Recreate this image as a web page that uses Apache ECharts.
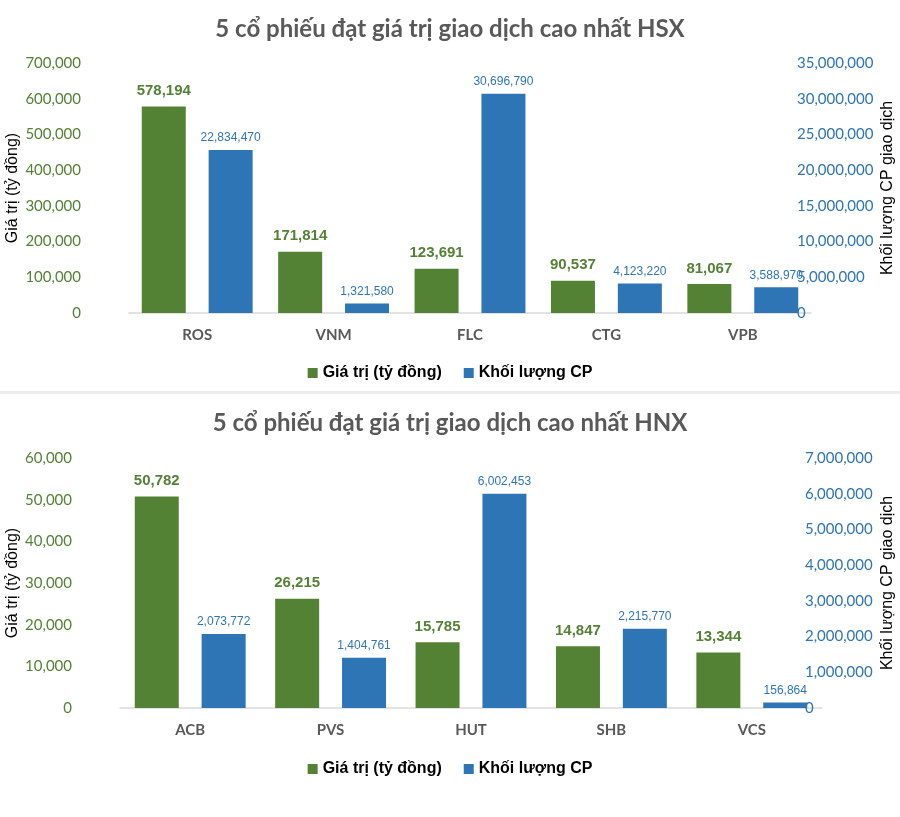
<!DOCTYPE html>
<html>
<head>
<meta charset="utf-8">
<script src="https://cdn.jsdelivr.net/npm/echarts@6/dist/echarts.min.js"></script>
<style>
html,body{margin:0;padding:0;background:#fff;}
#c{width:900px;height:817px;}
</style>
</head>
<body>
<div id="c"></div>
<script>
// ---- Data ----
const hsxCategories = ['ROS', 'VNM', 'FLC', 'CTG', 'VPB'];
const hsxValue = [578194, 171814, 123691, 90537, 81067];
const hsxVolume = [22834470, 1321580, 30696790, 4123220, 3588970];

const hnxCategories = ['ACB', 'PVS', 'HUT', 'SHB', 'VCS'];
const hnxValue = [50782, 26215, 15785, 14847, 13344];
const hnxVolume = [2073772, 1404761, 6002453, 2215770, 156864];

const titleHSX = '5 cổ phiếu đạt giá trị giao dịch cao nhất HSX';
const titleHNX = '5 cổ phiếu đạt giá trị giao dịch cao nhất HNX';
const seriesNames = ['Giá trị (tỷ đồng)', 'Khối lượng CP'];
const leftAxisName = 'Giá trị (tỷ đồng)';
const rightAxisName = 'Khối lượng CP giao dịch';

// ---- Styles ----
const GREEN = '#548235';
const BLUE = '#2E75B6';
const fmt = v => v.toLocaleString('en-US');
const tickFont = 'Lato, "Open Sans", sans-serif';
const narrow = '"Liberation Sans Narrow", "Arial Narrow", "Liberation Sans", sans-serif';

function yLeft(gridIndex, max, interval, gap) {
  return {
    type: 'value', gridIndex, min: 0, max, interval, position: 'left',
    name: leftAxisName, nameLocation: 'middle', nameGap: gap, nameMoveOverlap: false,
    nameTextStyle: {color: '#000', fontSize: 16, fontFamily: 'Liberation Sans, Arial, sans-serif'},
    axisLine: {show: false}, axisTick: {show: false}, splitLine: {show: false},
    axisLabel: {color: GREEN, fontSize: 15, fontFamily: tickFont, margin: 48, formatter: v => fmt(v)}
  };
}
function yRight(gridIndex, max, interval, off, gap) {
  return {
    type: 'value', gridIndex, min: 0, max, interval, position: 'right', offset: off,
    name: rightAxisName, nameLocation: 'middle', nameGap: gap, nameMoveOverlap: false,
    nameTextStyle: {color: '#000', fontSize: 16, fontFamily: 'Liberation Sans, Arial, sans-serif'},
    axisLine: {show: false}, axisTick: {show: false}, splitLine: {show: false},
    axisLabel: {color: BLUE, fontSize: 15, fontFamily: tickFont, margin: 0, formatter: v => fmt(v)}
  };
}
function xCat(gridIndex, data) {
  return {
    type: 'category', gridIndex, data,
    axisLine: {lineStyle: {color: '#d9d9d9', width: 1.5}}, axisTick: {show: false},
    axisLabel: {color: '#595959', fontWeight: 'bold', fontSize: 15, fontFamily: tickFont, margin: 15}
  };
}
function greenSeries(xi, yi, data) {
  return {
    name: seriesNames[0], type: 'bar', xAxisIndex: xi, yAxisIndex: yi, data,
    barWidth: 44, barGap: '52%',
    itemStyle: {color: GREEN},
    label: {show: true, position: 'top', distance: 8, color: GREEN, fontWeight: 'bold', fontSize: 15,
      fontFamily: narrow, formatter: p => fmt(p.value)}
  };
}
function blueSeries(xi, yi, data) {
  return {
    name: seriesNames[1], type: 'bar', xAxisIndex: xi, yAxisIndex: yi, data,
    barWidth: 44, barGap: '52%',
    itemStyle: {color: BLUE},
    label: {show: true, position: 'top', distance: 6, color: BLUE, fontSize: 12,
      fontFamily: narrow, formatter: p => fmt(p.value)}
  };
}
const titleStyle = {color: '#595959', fontSize: 24, fontWeight: 'bold', fontFamily: tickFont};
const legendStyle = {color: '#000', fontSize: 16, fontWeight: 'bold', fontFamily: 'Liberation Sans, Arial, sans-serif'};

const option = {
  animation: false,
  backgroundColor: '#fff',
  title: [
    {text: titleHSX, left: 'center', top: 12, textStyle: titleStyle},
    {text: titleHNX, left: 'center', top: 406, textStyle: titleStyle}
  ],
  legend: [
    {data: seriesNames, top: 360, left: 'center', itemWidth: 10, itemHeight: 10, icon: 'rect', itemGap: 22, textStyle: legendStyle},
    {data: seriesNames, top: 756, left: 'center', itemWidth: 10, itemHeight: 10, icon: 'rect', itemGap: 22, textStyle: legendStyle}
  ],
  grid: [
    {left: 129, right: 89, top: 63, height: 250, outerBoundsMode: 'none', containLabel: false},
    {left: 120, right: 78, top: 458, height: 250, outerBoundsMode: 'none', containLabel: false}
  ],
  xAxis: [xCat(0, hsxCategories), xCat(1, hnxCategories)],
  yAxis: [
    yLeft(0, 700000, 100000, 108),
    yRight(0, 35000000, 5000000, -14, 83),
    yLeft(1, 60000, 10000, 99),
    yRight(1, 7000000, 1000000, -17, 75)
  ],
  graphic: [
    {type: 'rect', shape: {x: 0, y: 391, width: 900, height: 3}, style: {fill: '#ececec'}, silent: true}
  ],
  series: [
    greenSeries(0, 0, hsxValue),
    blueSeries(0, 1, hsxVolume),
    greenSeries(1, 2, hnxValue),
    blueSeries(1, 3, hnxVolume)
  ]
};
echarts.init(document.getElementById('c'), null, {renderer: 'canvas'}).setOption(option);
</script>
</body>
</html>
